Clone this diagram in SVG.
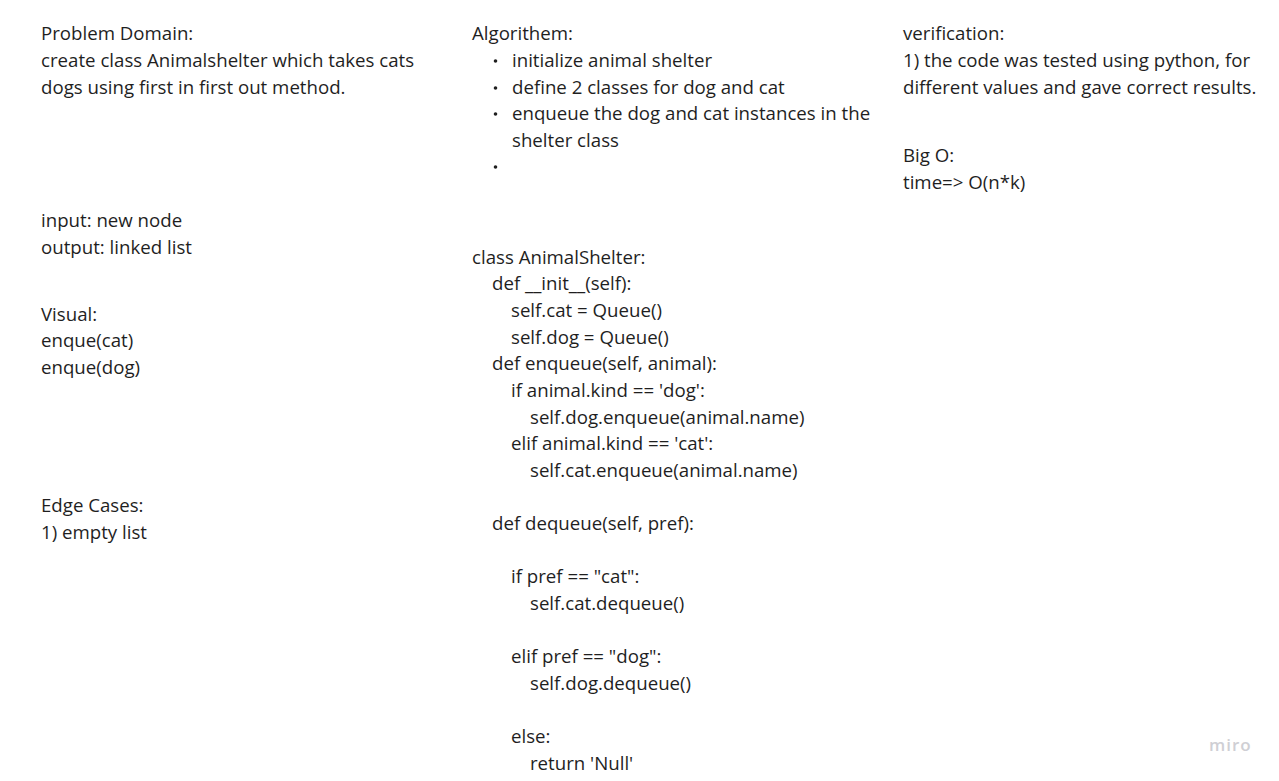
<svg xmlns="http://www.w3.org/2000/svg" width="1279" height="781" viewBox="0 0 1279 781">
<style>
text{font-family:"Open Sans","Noto Sans","Liberation Sans",sans-serif;font-size:18.67px;fill:#1f1f1f}
.wm{font-family:"Open Sans","Liberation Sans",sans-serif;font-size:17px;font-weight:600;fill:#cfcfd4;letter-spacing:1px}
</style>
<rect width="1279" height="781" fill="#ffffff"/>
<g id="problem-domain">
<text x="41" y="40">Problem Domain:</text>
<text x="41" y="67">create class Animalshelter which takes cats</text>
<text x="41" y="94">dogs using first in first out method.</text>
</g>
<g id="input-output">
<text x="41" y="227">input: new node</text>
<text x="41" y="254">output: linked list</text>
</g>
<g id="visual">
<text x="41" y="321">Visual:</text>
<text x="41" y="347">enque(cat)</text>
<text x="41" y="374">enque(dog)</text>
</g>
<g id="edge-cases">
<text x="41" y="512">Edge Cases:</text>
<text x="41" y="539">1) empty list</text>
</g>
<g id="algorithm">
<text x="472" y="40">Algorithem:</text>
<circle cx="495.5" cy="61" r="1.8" fill="#1f1f1f"/>
<text x="512" y="67">initialize animal shelter</text>
<circle cx="495.5" cy="88" r="1.8" fill="#1f1f1f"/>
<text x="512" y="94">define 2 classes for dog and cat</text>
<circle cx="495.5" cy="114" r="1.8" fill="#1f1f1f"/>
<text x="512" y="120">enqueue the dog and cat instances in the</text>
<text x="512" y="147">shelter class</text>
<circle cx="495.5" cy="167" r="1.8" fill="#1f1f1f"/>
</g>
<g id="code">
<text x="472" y="264">class AnimalShelter:</text>
<text x="492" y="290">def __init__(self):</text>
<text x="511" y="317">self.cat = Queue()</text>
<text x="511" y="344">self.dog = Queue()</text>
<text x="492" y="370">def enqueue(self, animal):</text>
<text x="511" y="397">if animal.kind == 'dog':</text>
<text x="530" y="424">self.dog.enqueue(animal.name)</text>
<text x="511" y="450">elif animal.kind == 'cat':</text>
<text x="530" y="477">self.cat.enqueue(animal.name)</text>
<text x="492" y="530">def dequeue(self, pref):</text>
<text x="511" y="583">if pref == "cat":</text>
<text x="530" y="610">self.cat.dequeue()</text>
<text x="511" y="663">elif pref == "dog":</text>
<text x="530" y="690">self.dog.dequeue()</text>
<text x="511" y="743">else:</text>
<text x="530" y="770">return 'Null'</text>
</g>
<g id="verification">
<text x="903" y="40">verification:</text>
<text x="903" y="67">1) the code was tested using python, for</text>
<text x="903" y="94">different values and gave correct results.</text>
</g>
<g id="big-o">
<text x="903" y="162">Big O:</text>
<text x="903" y="189">time=&gt; O(n*k)</text>
</g>
<g id="watermark">
<text class="wm" x="1209" y="751">miro</text>
</g>
</svg>
